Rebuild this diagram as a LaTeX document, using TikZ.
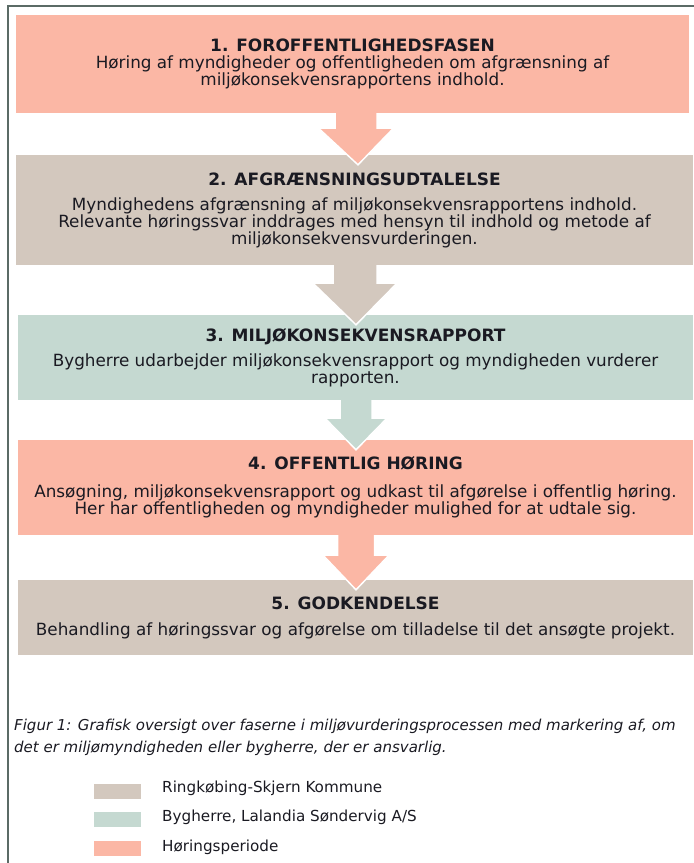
\documentclass[tikz,border=0pt]{standalone}
\usepackage{fontspec}
\setmainfont{DejaVu Sans}
\usetikzlibrary{calc}
\definecolor{pinkc}{HTML}{FBB7A5}
\definecolor{beigec}{HTML}{D3C8BE}
\definecolor{greenc}{HTML}{C5D9D1}
\definecolor{framec}{HTML}{5B6B66}
\definecolor{textc}{HTML}{1A1A22}
\newcommand\flowarrow[7]{%
  \coordinate (s) at ($(#1.south)+(#3,0)$);
  \coordinate (t) at ($(#2.north)+(#3,10)$);
  \path[fill=#7, draw=white, line width=1.5pt, line join=miter]
    ($(s)+(-#4,0)$) -- ($(s)+(-#4,#6)$) -- ($(s)+(-#5,#6)$) -- (t)
    -- ($(s)+(#5,#6)$) -- ($(s)+(#4,#6)$) -- ($(s)+(#4,0)$);
}
\newcommand\ttl[1]{{\fontsize{17}{17}\selectfont\bfseries #1}}
\begin{document}
\begin{tikzpicture}[x=1pt,y=-1pt,
  box/.style={inner sep=0pt, align=center, text=textc, font=\fontsize{16.8}{17}\selectfont},
  swatch/.style={minimum width=47pt, minimum height=15pt, inner sep=0pt},
  legtext/.style={anchor=west, inner sep=0pt, text=textc, font=\fontsize{15.2}{16}\selectfont}]
\useasboundingbox (0,0) rectangle (694,863);
% frame
\draw[framec, line width=2pt] (8,863) -- (8,6) -- (694,6);
% boxes
\node[box, fill=pinkc, minimum width=673pt, minimum height=98pt] (b1) at (352.5,64)
  {\ttl{1. FOROFFENTLIGHEDSFASEN}\\Høring af myndigheder og offentligheden om afgrænsning af\\miljøkonsekvensrapportens indhold.};
\node[box, fill=beigec, minimum width=677pt, minimum height=110pt] (b2) at (354.5,210)
  {\ttl{2. AFGRÆNSNINGSUDTALELSE}\\[8pt]Myndighedens afgrænsning af miljøkonsekvensrapportens indhold.\\Relevante høringssvar inddrages med hensyn til indhold og metode af\\miljøkonsekvensvurderingen.};
\node[box, fill=greenc, minimum width=675pt, minimum height=85pt] (b3) at (355.5,357.5)
  {\ttl{3. MILJØKONSEKVENSRAPPORT}\\[8pt]Bygherre udarbejder miljøkonsekvensrapport og myndigheden vurderer\\rapporten.};
\node[box, fill=pinkc, minimum width=675pt, minimum height=95pt] (b4) at (355.5,487.5)
  {\ttl{4. OFFENTLIG HØRING}\\[11pt]Ansøgning, miljøkonsekvensrapport og udkast til afgørelse i offentlig høring.\\Her har offentligheden og myndigheder mulighed for at udtale sig.};
\node[box, fill=beigec, minimum width=675pt, minimum height=75pt] (b5) at (355.5,617.5)
  {\ttl{5. GODKENDELSE}\\[9pt]Behandling af høringssvar og afgørelse om tilladelse til det ansøgte projekt.};
% arrows
\flowarrow{b1}{b2}{3.5}{21}{37.5}{15}{pinkc}
\flowarrow{b2}{b3}{0.5}{22}{42}{18}{beigec}
\flowarrow{b3}{b4}{0.5}{16}{31}{18}{greenc}
\flowarrow{b4}{b5}{0.5}{18.5}{33}{20}{pinkc}
% caption
\node[anchor=north west, inner sep=0pt, align=left, text=textc,
  font=\fontsize{15}{22}\selectfont\itshape] (cap) at (14,719)
  {Figur 1: Grafisk oversigt over faserne i miljøvurderingsprocessen med markering af, om\\det er miljømyndigheden eller bygherre, der er ansvarlig.};
% legend
\node[swatch, fill=beigec] (s1) at (117.5,791) {};
\node[swatch, fill=greenc] (s2) at (117.5,819.5) {};
\node[swatch, fill=pinkc] (s3) at (117.5,848.5) {};
\node[legtext] (l1) at (162,788) {Ringkøbing-Skjern Kommune};
\node[legtext] (l2) at (162,817) {Bygherre, Lalandia Søndervig A/S};
\node[legtext] (l3) at (162,847) {Høringsperiode};
\end{tikzpicture}
\end{document}
